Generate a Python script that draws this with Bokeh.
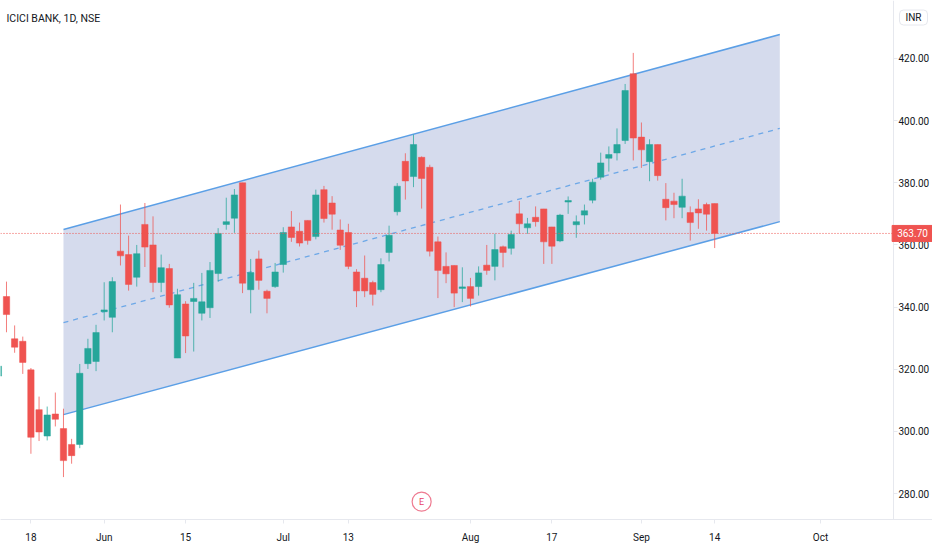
from bokeh.plotting import figure
from bokeh.models import ColumnDataSource, FixedTicker, Label, Span
from bokeh.core.properties import value
from bokeh.embed import file_html
from bokeh.resources import INLINE

index = list(range(-1, 88))
opens = [317.8,343.4,329.8,329.0,319.8,307.0,298.5,305.6,300.9,295.8,295.8,321.8,322.5,338.5,336.7,358.0,356.9,349.6,366.6,360.0,347.9,352.4,323.6,341.0,341.8,338.0,339.8,350.8,366.6,368.6,
         380.0,345.6,355.5,345.1,346.6,353.7,365.8,364.4,367.9,362.7,377.8,373.5,364.8,364.0,351.3,349.3,347.9,345.6,357.6,370.7,386.9,382.0,388.2,385.0,361.0,353.1,353.4,346.0,346.6,346.6,
         353.5,353.1,359.4,358.9,370.0,365.5,368.9,371.6,365.8,361.3,373.8,366.5,369.6,374.4,381.8,387.9,389.6,393.6,415.1,394.7,386.8,392.3,374.7,374.1,372.1,370.4,371.6,373.0,373.3]
closes = [321.0,337.6,327.1,322.2,298.1,299.8,305.3,303.9,290.6,292.2,318.7,326.7,331.8,339.1,348.2,356.5,347.3,357.2,359.3,347.9,352.7,340.7,344.0,330.7,342.8,341.7,351.8,363.7,367.5,376.1,
          347.7,351.1,348.6,342.8,351.3,364.0,362.4,360.6,361.4,376.1,368.5,369.9,359.9,353.1,345.2,345.2,344.1,353.7,363.1,378.9,380.6,392.3,381.4,358.0,351.8,350.7,344.5,346.5,342.8,351.0,
          351.8,358.5,357.6,363.4,366.8,366.8,367.5,361.0,359.6,369.6,374.3,367.5,371.0,380.2,386.4,389.1,392.3,409.7,394.4,390.6,392.3,382.3,372.0,373.0,375.7,367.2,370.3,369.9,363.7]
highs = [322,348.2,334.1,330.5,320.4,311.2,308.0,312.5,307.3,297.6,321.7,329.8,334.3,348.0,349.6,373.0,363.0,360.0,373.5,369.2,356.9,353.9,345.9,341.9,347.8,351.0,354.5,365.4,375.2,378.0,
         380.0,355.5,358.2,345.6,354.2,365.7,370.9,367.2,367.9,377.8,379.0,375.7,368.2,366.8,352.2,356.6,348.5,355.7,366.2,379.9,389.5,395.5,388.5,385.8,362.7,357.6,353.4,352.8,349.4,353.1,
         360.0,363.6,359.8,364.6,374.1,368.7,372.4,371.6,365.8,370.0,375.6,369.5,373.0,381.3,389.7,391.7,397.5,411.8,421.8,399.4,394.0,392.3,379.9,376.8,381.3,372.4,374.7,373.6,373.3]
lows = [317,331.9,325.3,318.5,292.8,296.9,297.1,301.6,285.3,289.6,294.6,320.1,319.4,335.7,331.9,353.4,345.3,346.6,352.9,344.8,344.8,339.8,323.6,325.2,325.7,335.7,336.5,348.2,364.9,363.9,
        344.5,338.0,345.6,338.0,346.2,351.1,361.0,359.5,360.1,361.8,367.2,364.9,358.4,352.2,340.0,343.2,340.5,344.8,354.7,369.5,374.6,378.6,371.7,356.3,342.9,347.7,340.0,341.6,340.2,343.7,
        350.4,348.6,352.8,356.9,363.6,363.6,365.9,353.9,353.9,360.9,370.0,362.3,366.6,373.4,381.0,383.6,387.2,392.5,387.2,384.8,380.5,380.7,367.9,368.6,368.6,361.4,365.2,364.6,359.0]

channel_x = [7, 95]
channel_upper = [365.0, 427.7]
channel_middle = [335.0, 397.5]
channel_lower = [305.4, 367.5]

x_ticks = [3, 12, 22, 34, 42, 57, 67, 78, 87, 100]
x_labels = ["18", "Jun", "15", "Jul", "13", "Aug", "17", "Sep", "14", "Oct"]
y_ticks = [280, 300, 320, 340, 360, 380, 400, 420]
last_price = 363.70
earnings_index = 51
earnings_level = 277.4
price_axis_at = 108.97

UP = "#26a69a"
DOWN = "#ef5350"
BLUE = "#5b9fe6"
FONT = "Roboto"
INK = "#131722"
EDGE = "#e6e8ee"

colors = [UP if c >= o else DOWN for o, c in zip(opens, closes)]
source = ColumnDataSource(dict(x=index, open=opens, close=closes, high=highs, low=lows, color=colors))

p = figure(width=932, height=550, output_backend="svg", toolbar_location=None,
           x_range=(-0.737, 113.76), y_range=(271.65, 438.66), y_axis_location="right",
           min_border_left=0, min_border_top=0, min_border_right=0, min_border_bottom=31)
p.outline_line_color = None
p.grid.visible = False
p.background_fill_color = "white"
p.border_fill_color = "white"

p.patch(channel_x + channel_x[::-1], channel_upper + channel_lower[::-1], fill_color="#d5dbed", line_color=None)
p.line(channel_x, channel_upper, line_color=BLUE, line_width=1.5)
p.line(channel_x, channel_lower, line_color=BLUE, line_width=1.5)
p.line(channel_x, channel_middle, line_color=BLUE, line_width=1.3, line_alpha=0.85, line_dash="5 5")

p.segment("x", "low", "x", "high", source=source, line_color="color", line_width=1, line_alpha=0.75)
p.vbar(x="x", top="open", bottom="close", width=0.78, source=source, fill_color="color", line_color="color", line_width=0.5)

p.add_layout(Span(location=last_price, dimension="width", line_color=DOWN, line_width=1, line_dash="1 2"))

p.scatter([earnings_index], [earnings_level], size=19, marker="circle", fill_color="white", line_color="#ee7a90", line_width=1.2)
p.text([earnings_index], [earnings_level], text=value("E"), text_align="center", text_baseline="middle",
       text_font=value(FONT), text_font_size="9px", text_color="#e8436a")

for ax in (p.xaxis[0], p.yaxis[0]):
    ax.axis_line_color = EDGE
    ax.major_tick_line_color = EDGE
    ax.major_tick_out = 4
    ax.major_tick_in = 0
    ax.minor_tick_line_color = None
    ax.major_label_text_color = INK
    ax.major_label_text_font = FONT
    ax.major_label_text_font_size = "10px"

p.xaxis[0].ticker = FixedTicker(ticks=x_ticks)
p.xaxis[0].major_label_overrides = dict(zip(x_ticks, x_labels))
p.xaxis[0].major_label_standoff = 8
p.yaxis[0].ticker = FixedTicker(ticks=y_ticks)
p.yaxis[0].major_label_overrides = {t: f"{t:.2f}" for t in y_ticks}
p.yaxis[0].major_label_standoff = 1
p.yaxis[0].fixed_location = price_axis_at

p.add_layout(Label(x=6, y=501, x_units="screen", y_units="screen", text="ICICI BANK, 1D, NSE",
                   text_font=FONT, text_font_size="10.5px", text_color=INK, text_baseline="middle"))
p.add_layout(Label(x=913, y=502, x_units="screen", y_units="screen", text="INR", text_font=FONT, level="overlay",
                   text_font_size="10px", text_color=INK, text_align="center", text_baseline="middle",
                   background_fill_color="white", border_line_color=EDGE, border_radius=4, padding=(6, 2)))
p.add_layout(Label(x=912, y=last_price, x_units="screen", y_units="data", text=f"{last_price:.2f}", text_font=FONT, level="overlay",
                   text_font_size="10px", text_color="white", text_align="center", text_baseline="middle",
                   background_fill_color=DOWN, border_line_color=DOWN, padding=(5, 4)))

open("out.html", "w").write(file_html(p, INLINE))
